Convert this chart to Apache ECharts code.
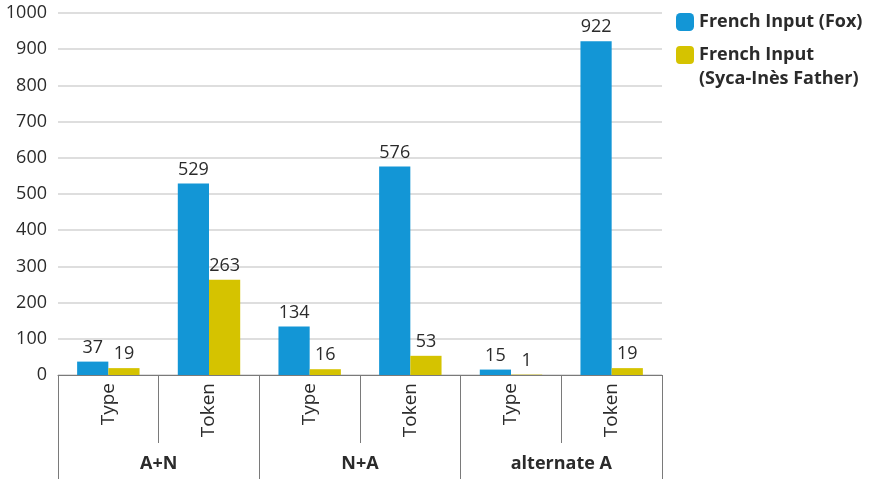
<!DOCTYPE html>
<html>
<head>
<meta charset="utf-8">
<script src="https://cdn.jsdelivr.net/npm/echarts@6/dist/echarts.min.js"></script>
<style>
  html, body { margin: 0; padding: 0; background: #fff; }
  #chart { width: 872px; height: 479px; }
</style>
</head>
<body>
<div id="chart"></div>
<script>
// Construction groups and the two counts shown under each
const groups = ['A+N', 'N+A', 'alternate A'];
const categories = ['Type', 'Token', 'Type', 'Token', 'Type', 'Token'];

const seriesNames = ['French Input (Fox)', 'French Input\n(Syca-Inès Father)'];
const foxValues = [37, 529, 134, 576, 15, 922];
const sycaValues = [19, 263, 16, 53, 1, 19];

const yTicks = { min: 0, max: 1000, interval: 100 };

const FONT = '"Open Sans", "Noto Sans", sans-serif';
const TEXT = '#2b2b2b';
const AXIS = '#7a7a7a';

// Rounded square sitting in the top of a taller box, so the swatch lines up
// with the first line of a two-line legend entry.
const TALL_SWATCH = 'path://M4,0 L14,0 Q18,0 18,4 L18,14 Q18,18 14,18 L4,18 Q0,18 0,14 L0,4 Q0,0 4,0 Z M0,42 L0.01,42';

const chart = echarts.init(document.getElementById('chart'));

const labelStyle = {
  show: true,
  position: 'top',
  distance: 5,
  color: TEXT,
  fontFamily: FONT,
  fontSize: 18
};

const legendText = { color: TEXT, fontFamily: FONT, fontSize: 18, fontWeight: 'bold', lineHeight: 24 };

chart.setOption({
  animation: false,
  textStyle: { fontFamily: FONT },
  grid: { left: 58, right: 210, top: 13, bottom: 104 },
  legend: [
    {
      orient: 'vertical',
      left: 671,
      top: 5,
      itemWidth: 18,
      itemHeight: 18,
      icon: 'roundRect',
      data: [seriesNames[0]],
      textStyle: legendText
    },
    {
      orient: 'vertical',
      left: 671,
      top: 38,
      itemWidth: 18,
      itemHeight: 42,
      icon: TALL_SWATCH,
      data: [seriesNames[1]],
      textStyle: legendText
    }
  ],
  xAxis: [
    {
      type: 'category',
      data: categories,
      position: 'bottom',
      axisLine: { show: true, lineStyle: { color: AXIS, width: 1 } },
      axisTick: { show: true, interval: 0, length: 68, lineStyle: { color: AXIS } },
      axisLabel: { interval: 0, rotate: 90, margin: 8, color: TEXT, fontFamily: FONT, fontSize: 19 }
    },
    {
      type: 'category',
      data: groups,
      position: 'bottom',
      axisLine: { show: false },
      axisTick: { show: true, interval: 0, length: 104, lineStyle: { color: AXIS } },
      axisLabel: { interval: 0, margin: 80, color: TEXT, fontFamily: FONT, fontSize: 18, fontWeight: 'bold' }
    }
  ],
  yAxis: {
    type: 'value',
    min: yTicks.min,
    max: yTicks.max,
    interval: yTicks.interval,
    axisLine: { show: false },
    axisTick: { show: false },
    axisLabel: { color: TEXT, fontFamily: FONT, fontSize: 18, margin: 11, formatter: v => String(v) },
    splitLine: { lineStyle: { color: '#d3d3d3', width: 1.5 } }
  },
  series: [
    {
      name: seriesNames[0],
      type: 'bar',
      xAxisIndex: 0,
      data: foxValues,
      barGap: '0%',
      barCategoryGap: '38%',
      itemStyle: { color: '#1396d6' },
      label: labelStyle
    },
    {
      name: seriesNames[1],
      type: 'bar',
      xAxisIndex: 0,
      data: sycaValues,
      barGap: '0%',
      barCategoryGap: '38%',
      itemStyle: { color: '#d5c300' },
      label: labelStyle
    }
  ]
});
</script>
</body>
</html>
